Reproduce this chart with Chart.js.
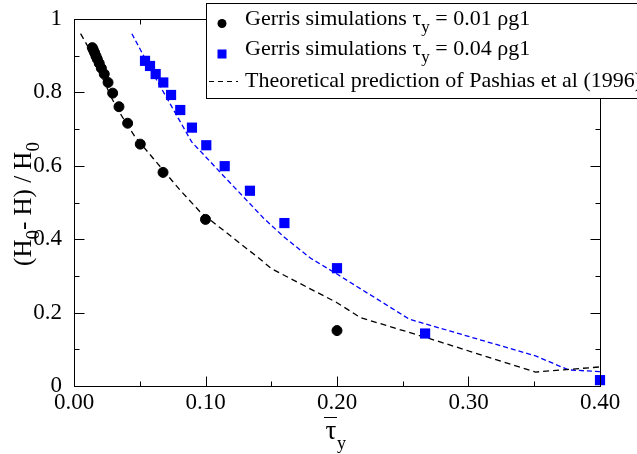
<!DOCTYPE html>
<html>
<head>
<meta charset="utf-8">
<script src="https://cdn.jsdelivr.net/npm/chart.js@4"></script>
<style>
  html, body { margin: 0; padding: 0; background: #fff; }
</style>
</head>
<body>
<canvas id="grafico" width="637" height="454"></canvas>
<script>
// Dados
const xMajor = [0, 0.1, 0.2, 0.3, 0.4];
const xMinor = [0.05, 0.15, 0.25, 0.35];
const xTickLabels = ['0.00', '0.10', '0.20', '0.30', '0.40'];
const yMajor = [0, 0.2, 0.4, 0.6, 0.8, 1];
const yMinor = [0.1, 0.3, 0.5, 0.7, 0.9];
const yTickLabels = ['0', '0.2', '0.4', '0.6', '0.8', '1'];

// Gerris tau_y = 0.01 (circulos pretos)
const pretoX = [0.0139, 0.0147, 0.0157, 0.0167, 0.0177, 0.0192, 0.0208, 0.0230, 0.0259, 0.0294, 0.0342, 0.0408, 0.0504, 0.0677, 0.1000, 0.2000];
const pretoY = [0.922, 0.916, 0.908, 0.899, 0.891, 0.879, 0.866, 0.850, 0.827, 0.798, 0.761, 0.716, 0.659, 0.582, 0.454, 0.151];

// Gerris tau_y = 0.04 (quadrados azuis)
const azulX = [0.0540, 0.0578, 0.0621, 0.0679, 0.0738, 0.0808, 0.0897, 0.1006, 0.1146, 0.1338, 0.160, 0.200, 0.267, 0.400];
const azulY = [0.886, 0.872, 0.850, 0.827, 0.793, 0.752, 0.704, 0.656, 0.599, 0.532, 0.444, 0.321, 0.143, 0.016];

// Predicao teorica (tracejado preto e azul)
const teoPretoX = [0.005, 0.012, 0.0287, 0.035, 0.0464, 0.0603, 0.073, 0.0806, 0.0958, 0.107, 0.1414, 0.150, 0.200, 0.218, 0.267, 0.351, 0.400];
const teoPretoY = [0.960, 0.916, 0.784, 0.743, 0.679, 0.620, 0.566, 0.534, 0.475, 0.443, 0.346, 0.320, 0.227, 0.186, 0.133, 0.038, 0.052];
const teoAzulX = [0.044, 0.060, 0.080, 0.0895, 0.100, 0.1136, 0.144, 0.160, 0.180, 0.200, 0.255, 0.351, 0.376, 0.400];
const teoAzulY = [0.960, 0.852, 0.725, 0.665, 0.625, 0.573, 0.458, 0.405, 0.348, 0.305, 0.182, 0.082, 0.044, 0.039];

// Textos da legenda (segmentos: [texto, subscrito?])
const legenda1 = [['Gerris simulations \u03C4', false], ['y', true], [' = 0.01 \u03C1g1', false]];
const legenda2 = [['Gerris simulations \u03C4', false], ['y', true], [' = 0.04 \u03C1g1', false]];
const legenda3 = [['Theoretical prediction of Pashias et al (1996)', false]];
const tituloY = [['(H', false], ['0', true], ['- H) / H', false], ['0', true]];

const serif = '"Liberation Serif", "DejaVu Serif", serif';

function pares(xs, ys) {
  return xs.map((x, i) => ({ x: x, y: ys[i] }));
}

// Desenha texto com subscritos
function textoComposto(ctx, partes, x, y, tam, alinhar) {
  const tamSub = Math.round(tam * 0.75);
  let largura = 0;
  partes.forEach(([t, sub]) => {
    ctx.font = (sub ? tamSub : tam) + 'px ' + serif;
    largura += ctx.measureText(t).width;
  });
  let cx = alinhar === 'center' ? x - largura / 2 : x;
  partes.forEach(([t, sub]) => {
    ctx.font = (sub ? tamSub : tam) + 'px ' + serif;
    ctx.fillText(t, cx, sub ? y + tam * 0.32 : y);
    cx += ctx.measureText(t).width;
  });
}

// Moldura, marcas internas, titulos e legenda
const moldura = {
  id: 'moldura',
  afterDatasetsDraw(chart) {
    const { ctx, chartArea: a, scales: { x, y } } = chart;
    const L = Math.round(a.left) + 0.5, R = Math.round(a.right) + 0.5;
    const T = Math.round(a.top) + 0.5, B = Math.round(a.bottom) + 0.5;
    ctx.save();
    ctx.strokeStyle = '#000';
    ctx.lineWidth = 1;
    ctx.strokeRect(L, T, R - L, B - T);

    ctx.beginPath();
    const marcaX = (v, len) => {
      const px = Math.round(x.getPixelForValue(v)) + 0.5;
      ctx.moveTo(px, B); ctx.lineTo(px, B - len);
      ctx.moveTo(px, T); ctx.lineTo(px, T + len);
    };
    const marcaY = (v, len) => {
      const py = Math.round(y.getPixelForValue(v)) + 0.5;
      ctx.moveTo(L, py); ctx.lineTo(L + len, py);
      ctx.moveTo(R, py); ctx.lineTo(R - len, py);
    };
    xMajor.forEach(v => marcaX(v, 10));
    xMinor.forEach(v => marcaX(v, 5));
    yMajor.forEach(v => marcaY(v, 10));
    yMinor.forEach(v => marcaY(v, 5));
    ctx.stroke();

    ctx.fillStyle = '#000';
    ctx.textBaseline = 'alphabetic';

    // titulo do eixo y
    ctx.save();
    ctx.translate(31, 204);
    ctx.rotate(-Math.PI / 2);
    ctx.textAlign = 'left';
    textoComposto(ctx, tituloY, 0, 0, 25, 'center');
    ctx.restore();

    // titulo do eixo x (tau com barra)
    const cx = x.getPixelForValue(0.2) - 6;
    ctx.font = '27px ' + serif;
    ctx.textAlign = 'center';
    ctx.fillText('\u03C4', cx, 439);
    ctx.beginPath();
    ctx.moveTo(cx - 7, 417.5); ctx.lineTo(cx + 6, 417.5);
    ctx.stroke();
    ctx.font = '18px ' + serif;
    ctx.textAlign = 'left';
    ctx.fillText('y', cx + 6, 449);

    // legenda
    ctx.fillStyle = '#fff';
    ctx.fillRect(206.5, 3.5, 440, 95);
    ctx.strokeRect(206.5, 3.5, 440, 95);
    ctx.fillStyle = '#000';
    ctx.beginPath();
    ctx.arc(222, 23.5, 4.5, 0, Math.PI * 2);
    ctx.fill();
    ctx.fillStyle = '#0000ff';
    ctx.fillRect(217.5, 49.5, 9, 9);
    ctx.strokeStyle = '#000';
    ctx.setLineDash([5, 4]);
    ctx.beginPath();
    ctx.moveTo(209, 81.5); ctx.lineTo(238, 81.5);
    ctx.stroke();
    ctx.setLineDash([]);
    ctx.fillStyle = '#000';
    ctx.textAlign = 'left';
    textoComposto(ctx, legenda1, 245, 25, 22, 'left');
    textoComposto(ctx, legenda2, 245, 55, 22, 'left');
    textoComposto(ctx, legenda3, 245, 87, 22, 'left');
    ctx.restore();
  }
};

new Chart(document.getElementById('grafico'), {
  type: 'scatter',
  data: {
    datasets: [
      {
        label: 'Gerris simulations tau_y = 0.01',
        data: pares(pretoX, pretoY),
        backgroundColor: '#000', borderColor: '#000',
        pointRadius: 5, pointStyle: 'circle', clip: false, order: 1
      },
      {
        label: 'Gerris simulations tau_y = 0.04',
        data: pares(azulX, azulY),
        backgroundColor: '#0000ff', borderColor: '#0000ff',
        pointRadius: 7.2, pointStyle: 'rect', borderWidth: 0, clip: false, order: 1
      },
      {
        label: 'Theoretical prediction (0.01)',
        data: pares(teoPretoX, teoPretoY),
        showLine: true, pointRadius: 0, borderColor: '#000', borderWidth: 1.3,
        borderDash: [6, 4], order: 2
      },
      {
        label: 'Theoretical prediction (0.04)',
        data: pares(teoAzulX, teoAzulY),
        showLine: true, pointRadius: 0, borderColor: '#0000ff', borderWidth: 1.3,
        borderDash: [5, 3], order: 2
      }
    ]
  },
  options: {
    responsive: false,
    animation: false,
    devicePixelRatio: 1,
    layout: { padding: { left: 0, right: 37, top: 19, bottom: 0 } },
    plugins: { legend: { display: false }, tooltip: { enabled: false } },
    scales: {
      x: {
        type: 'linear', min: 0, max: 0.4,
        grid: { display: false }, border: { display: false },
        afterBuildTicks: s => { s.ticks = xMajor.map(v => ({ value: v })); },
        afterFit: s => { s.height = 68; },
        ticks: {
          callback: (v, i) => xTickLabels[i],
          font: { family: serif, size: 23 }, color: '#000',
          padding: -5, maxRotation: 0, autoSkip: false
        }
      },
      y: {
        type: 'linear', min: 0, max: 1,
        grid: { display: false }, border: { display: false },
        afterBuildTicks: s => { s.ticks = yMajor.map(v => ({ value: v })); },
        afterFit: s => { s.width = 74; },
        ticks: {
          callback: (v, i) => yTickLabels[i],
          font: { family: serif, size: 23 }, color: '#000',
          padding: 4, autoSkip: false
        }
      }
    }
  },
  plugins: [moldura]
});
</script>
</body>
</html>
